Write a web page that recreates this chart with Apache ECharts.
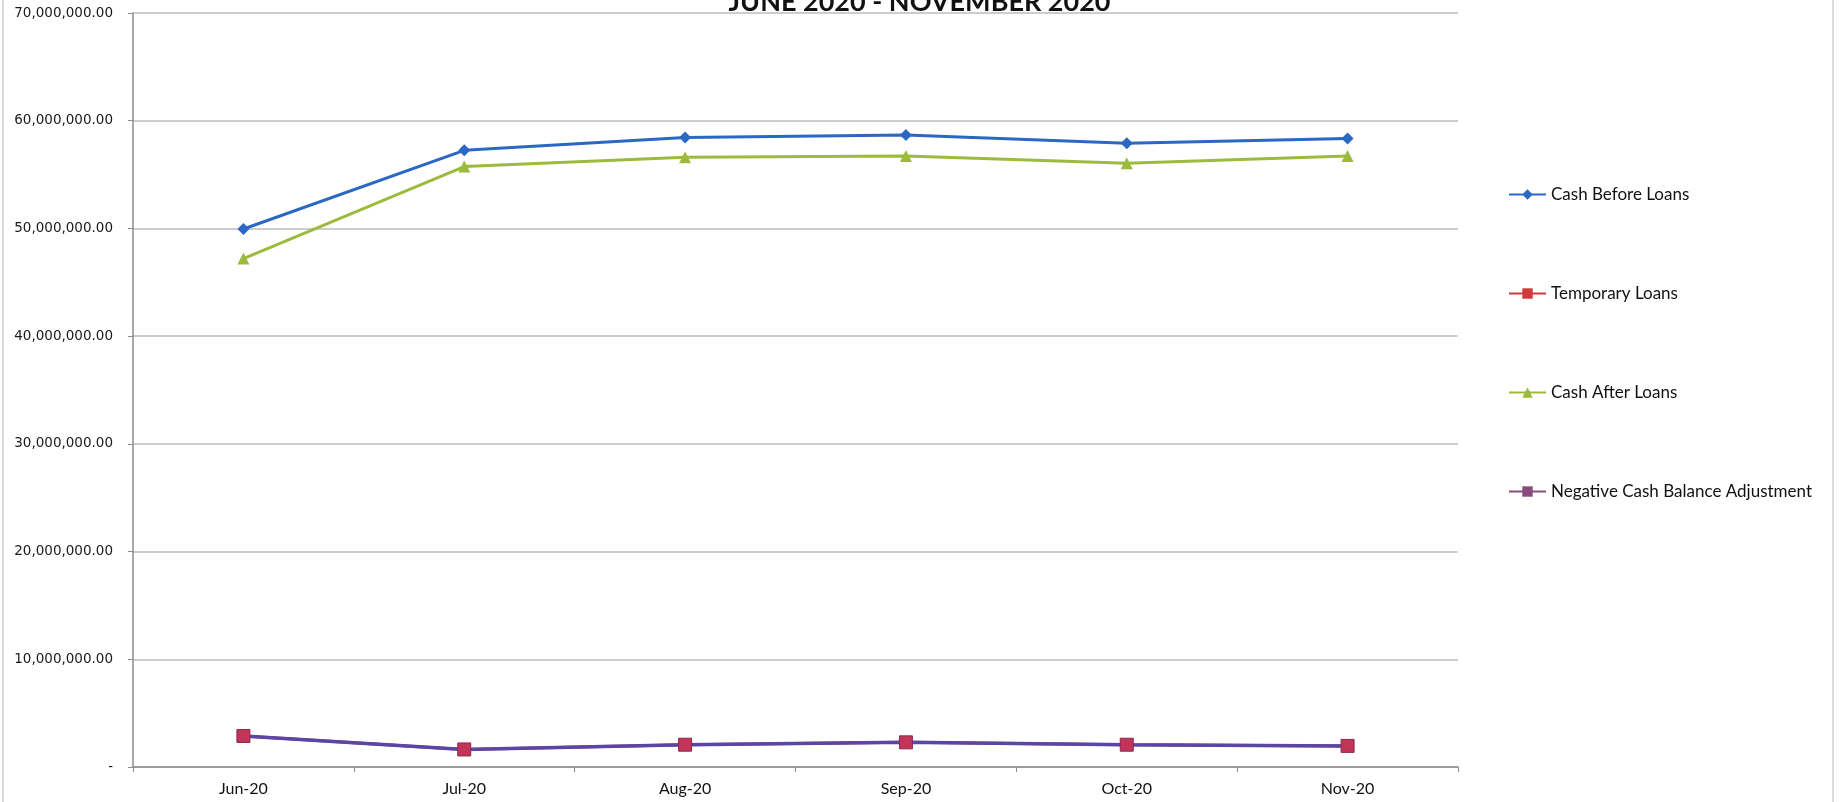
<!DOCTYPE html>
<html>
<head>
<meta charset="utf-8">
<script src="https://cdn.jsdelivr.net/npm/echarts@6/dist/echarts.min.js"></script>
<style>html,body{margin:0;padding:0;background:#fff}#c{width:1839px;height:802px}</style>
</head>
<body>
<div id="c"></div>
<script>
const categories = ['Jun-20','Jul-20','Aug-20','Sep-20','Oct-20','Nov-20'];
const cashBeforeLoans = [49950000, 57250000, 58450000, 58680000, 57900000, 58350000];
const temporaryLoans = [2880000, 1630000, 2070000, 2290000, 2070000, 1960000];
const cashAfterLoans = [47200000, 55740000, 56610000, 56720000, 56060000, 56720000];
const negativeCashBalanceAdjustment = [2880000, 1630000, 2070000, 2290000, 2070000, 1960000];
const yTicks = [0, 10000000, 20000000, 30000000, 40000000, 50000000, 60000000, 70000000];

function fmt(v){
  if (v === 0) return '-';
  return v.toLocaleString('en-US',{minimumFractionDigits:2,maximumFractionDigits:2});
}

const chart = echarts.init(document.getElementById('c'));
chart.setOption({
  animation:false,
  backgroundColor:'#fff',
  title:{
    text:'JUNE 2020 - NOVEMBER 2020',
    left:'center', top:-16,
    textStyle:{fontFamily:'Lato', fontWeight:'bold', fontSize:27, color:'#111'}
  },
  graphic:[{type:'rect', shape:{x:3,y:-5,width:1830,height:815}, style:{fill:'none', stroke:'#cfcfcf', lineWidth:1.5}, silent:true}],
  grid:{left:133, right:381, top:13, bottom:35},
  legend:{
    orient:'vertical', left:1503, top:181, itemGap:82, itemWidth:37, itemHeight:13,
    textStyle:{fontFamily:'Lato', fontSize:17, color:'#111'},
    data:[
      {name:'Cash Before Loans'},
      {name:'Temporary Loans'},
      {name:'Cash After Loans'},
      {name:'Negative Cash Balance Adjustment', itemStyle:{color:'#8a4a7e', borderWidth:0}, lineStyle:{color:'#8a4a7e'}}
    ]
  },
  xAxis:{
    type:'category', data:categories, boundaryGap:true,
    axisLine:{lineStyle:{color:'#8c8c8c', width:1.5}},
    axisTick:{show:true, length:5, lineStyle:{color:'#8c8c8c'}},
    axisLabel:{fontFamily:'Lato', fontSize:16, color:'#111', margin:14}
  },
  yAxis:{
    type:'value', min:0, max:70000000, interval:10000000,
    axisLine:{show:true, lineStyle:{color:'#8c8c8c', width:1.5}},
    axisTick:{show:true, length:5, lineStyle:{color:'#8c8c8c'}},
    splitLine:{lineStyle:{color:'#bdbdbd', width:1.5}},
    axisLabel:{fontFamily:'DejaVu Sans', fontSize:13.5, color:'#1a1a1a', margin:20, formatter:fmt}
  },
  series:[
    {name:'Cash Before Loans', type:'line', data:cashBeforeLoans, symbol:'diamond', symbolSize:12, z:3,
      lineStyle:{color:'#2b68c4', width:3}, itemStyle:{color:'#2b68c4'}},
    {name:'Temporary Loans', type:'line', data:temporaryLoans, symbol:'rect', symbolSize:11, z:1,
      lineStyle:{color:'#cf3a3c', width:3}, itemStyle:{color:'#cf3a3c'}},
    {name:'Cash After Loans', type:'line', data:cashAfterLoans, symbol:'triangle', symbolSize:12, z:3,
      lineStyle:{color:'#9cbb3c', width:3}, itemStyle:{color:'#9cbb3c'}},
    {name:'Negative Cash Balance Adjustment', type:'line', data:negativeCashBalanceAdjustment, symbol:'rect', symbolSize:13, z:2,
      lineStyle:{color:'#5a46a6', width:3.5}, itemStyle:{color:'#c23458', borderColor:'#8a2a50', borderWidth:1}}
  ]
});
</script>
</body>
</html>
